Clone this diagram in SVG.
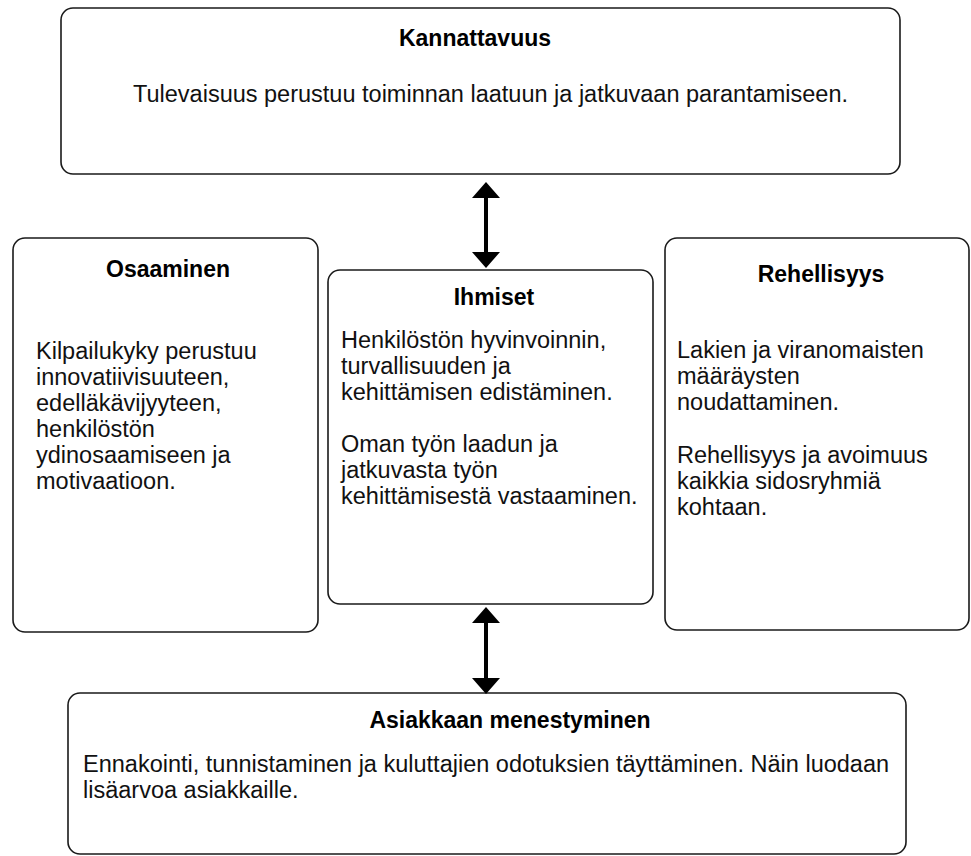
<svg xmlns="http://www.w3.org/2000/svg" width="971" height="856" viewBox="0 0 971 856">
  <style>
    .box { fill: #ffffff; stroke: #1a1a1a; stroke-width: 1.6; }
    .title { font-family: "Liberation Sans", Arial, sans-serif; font-weight: bold; font-size: 23px; fill: #000; text-anchor: middle; }
    .body { font-family: "Liberation Sans", Arial, sans-serif; font-size: 23.5px; fill: #111; }
    .link { stroke: #000; stroke-width: 4; fill: none; }
  </style>
  <defs>
    <marker id="head" markerUnits="userSpaceOnUse" markerWidth="16" markerHeight="28" viewBox="0 0 16 28" refX="0" refY="14" orient="auto-start-reverse">
      <path d="M0,0 L16,14 L0,28 Z" fill="#000"/>
    </marker>
  </defs>

  <rect x="0" y="0" width="971" height="856" fill="#ffffff"/>

  <g id="kannattavuus">
    <rect class="box" x="61" y="8" width="839" height="166" rx="12" ry="12"/>
    <text class="title" x="475" y="46">Kannattavuus</text>
    <text class="body" x="133" y="102">Tulevaisuus perustuu toiminnan laatuun ja jatkuvaan parantamiseen.</text>
  </g>

  <g id="osaaminen">
    <rect class="box" x="13" y="238" width="305" height="394" rx="12" ry="12"/>
    <text class="title" x="168" y="277">Osaaminen</text>
    <text class="body" x="36">
      <tspan x="36" y="359">Kilpailukyky perustuu</tspan>
      <tspan x="36" y="385">innovatiivisuuteen,</tspan>
      <tspan x="36" y="411">edelläkävijyyteen,</tspan>
      <tspan x="36" y="437">henkilöstön</tspan>
      <tspan x="36" y="463">ydinosaamiseen ja</tspan>
      <tspan x="36" y="489">motivaatioon.</tspan>
    </text>
  </g>

  <g id="ihmiset">
    <rect class="box" x="328" y="270" width="325" height="334" rx="12" ry="12"/>
    <text class="title" x="494" y="305">Ihmiset</text>
    <text class="body">
      <tspan x="341" y="348">Henkilöstön hyvinvoinnin,</tspan>
      <tspan x="341" y="374">turvallisuuden ja</tspan>
      <tspan x="341" y="400">kehittämisen edistäminen.</tspan>
      <tspan x="341" y="452">Oman työn laadun ja</tspan>
      <tspan x="341" y="478">jatkuvasta työn</tspan>
      <tspan x="341" y="504">kehittämisestä vastaaminen.</tspan>
    </text>
  </g>

  <g id="rehellisyys">
    <rect class="box" x="665" y="238" width="304" height="392" rx="12" ry="12"/>
    <text class="title" x="821" y="282">Rehellisyys</text>
    <text class="body">
      <tspan x="677" y="358">Lakien ja viranomaisten</tspan>
      <tspan x="677" y="384">määräysten</tspan>
      <tspan x="677" y="410">noudattaminen.</tspan>
      <tspan x="677" y="463">Rehellisyys ja avoimuus</tspan>
      <tspan x="677" y="489">kaikkia sidosryhmiä</tspan>
      <tspan x="677" y="515">kohtaan.</tspan>
    </text>
  </g>

  <g id="asiakkaan-menestyminen">
    <rect class="box" x="68" y="693" width="838" height="161" rx="12" ry="12"/>
    <text class="title" x="510" y="728">Asiakkaan menestyminen</text>
    <text class="body">
      <tspan x="83" y="772">Ennakointi, tunnistaminen ja kuluttajien odotuksien täyttäminen. Näin luodaan</tspan>
      <tspan x="83" y="798">lisäarvoa asiakkaille.</tspan>
    </text>
  </g>

  <g id="connectors">
    <line class="link" x1="486" y1="198" x2="486" y2="252" marker-start="url(#head)" marker-end="url(#head)"/>
    <line class="link" x1="486" y1="623" x2="486" y2="678" marker-start="url(#head)" marker-end="url(#head)"/>
  </g>
</svg>
